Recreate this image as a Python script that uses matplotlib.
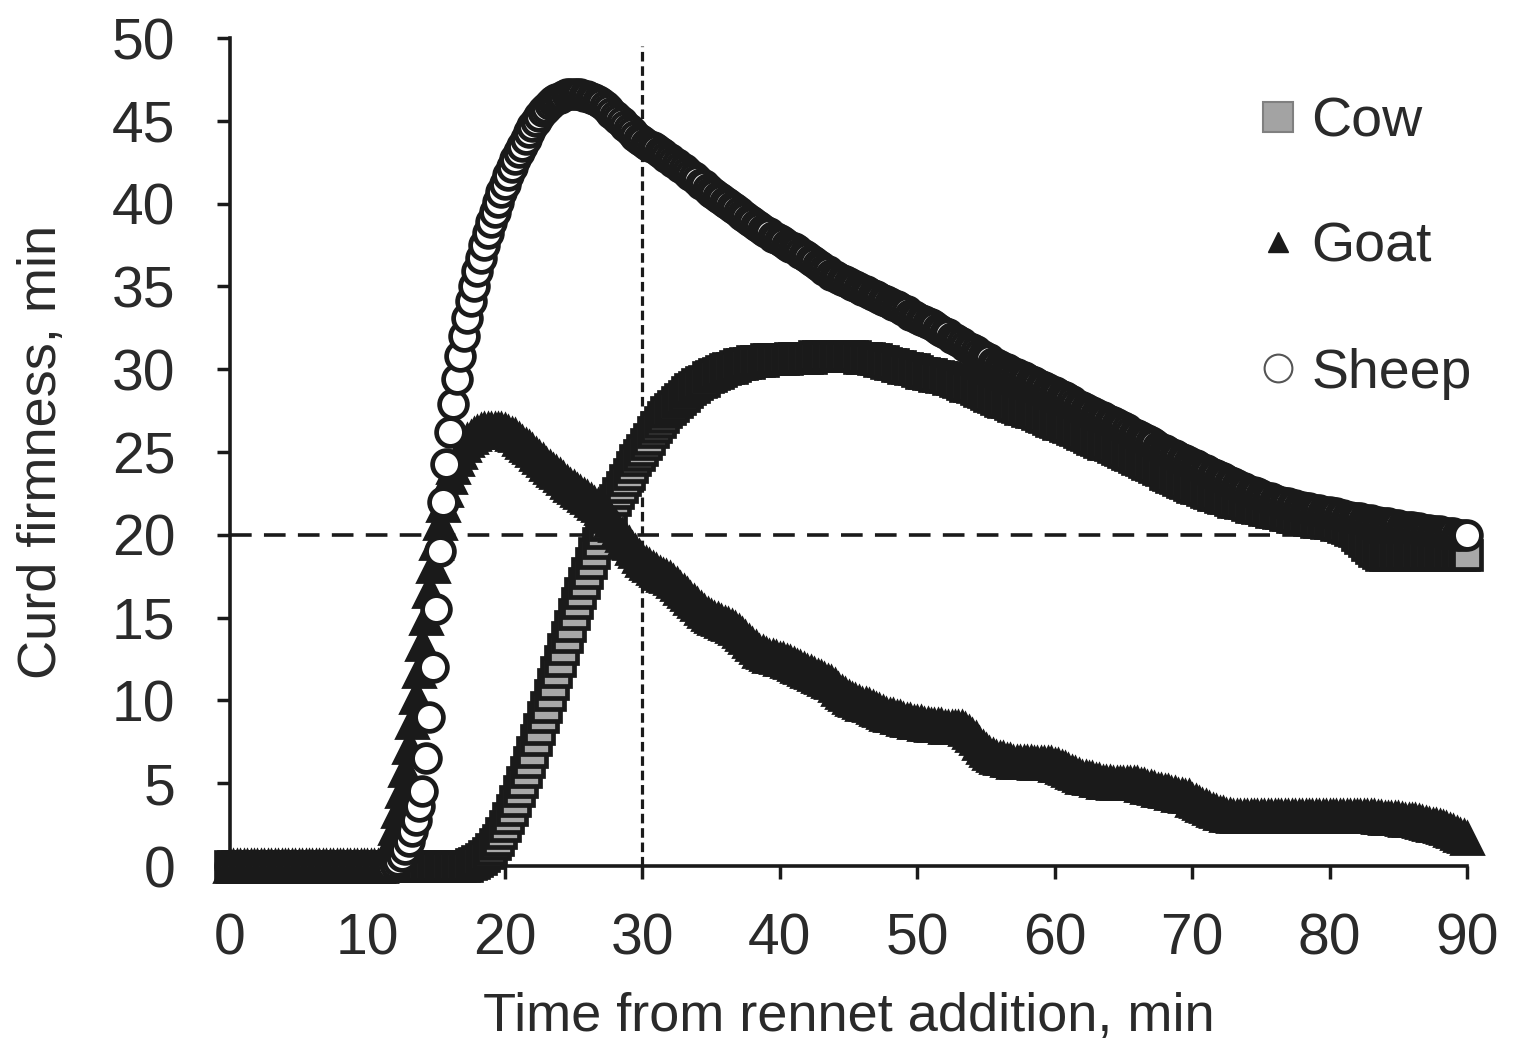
import numpy as np
import matplotlib.pyplot as plt
from matplotlib.lines import Line2D

plt.rcParams['font.family'] = ['Liberation Sans', 'DejaVu Sans']

# curd firmness, one value every 0.25 min (0 .. 90 min)
time_step = 0.25

cow = [
    0, 0, 0, 0, 0, 0, 0, 0,                          # 0
    0, 0, 0, 0, 0, 0, 0, 0,                          # 2
    0, 0, 0, 0, 0, 0, 0, 0,                          # 4
    0, 0, 0, 0, 0, 0, 0, 0,                          # 6
    0, 0, 0, 0, 0, 0, 0, 0,                          # 8
    0, 0, 0, 0, 0, 0, 0, 0,                          # 10
    0, 0, 0, 0, 0, 0, 0, 0,                          # 12
    0, 0, 0, 0, 0, 0, 0, 0,                          # 14
    0, 0, 0, 0, 0, 0, 0.1, 0.2,                      # 16
    0.3, 0.45, 0.6, 0.8, 1.0, 1.3, 1.6, 2.0,         # 18
    2.4, 2.9, 3.4, 3.9, 4.5, 5.1, 5.7, 6.3,          # 20
    6.9, 7.6, 8.3, 9.0, 9.6, 10.3, 11.0, 11.7,       # 22
    12.4, 13.1, 13.8, 14.5, 15.2, 15.9, 16.5, 17.1,  # 24
    17.7, 18.3, 18.9, 19.5, 20.1, 20.6, 21.1, 21.6,  # 26
    22.1, 22.5, 22.9, 23.3, 23.7, 24.1, 24.5, 24.8,  # 28
    25.1, 25.5, 25.8, 26.2, 26.5, 26.8, 27.1, 27.4,  # 30
    27.6, 27.8, 28.0, 28.2, 28.4, 28.6, 28.8, 28.9,  # 32
    29.1, 29.2, 29.3, 29.5, 29.6, 29.7, 29.8, 29.9,  # 34
    30.0, 30.1, 30.1, 30.2, 30.3, 30.3, 30.4, 30.4,  # 36
    30.5, 30.5, 30.5, 30.5, 30.6, 30.6, 30.6, 30.6,  # 38
    30.6, 30.6, 30.6, 30.7, 30.7, 30.7, 30.7, 30.7,  # 40
    30.7, 30.7, 30.8, 30.8, 30.8, 30.8, 30.8, 30.8,  # 42
    30.8, 30.8, 30.8, 30.8, 30.8, 30.8, 30.8, 30.7,  # 44
    30.7, 30.7, 30.7, 30.6, 30.6, 30.5, 30.5, 30.4,  # 46
    30.3, 30.3, 30.2, 30.2, 30.1, 30.1, 30.0, 30.0,  # 48
    29.9, 29.8, 29.8, 29.7, 29.7, 29.6, 29.6, 29.5,  # 50
    29.5, 29.4, 29.4, 29.3, 29.2, 29.1, 29.0, 29.0,  # 52
    28.9, 28.8, 28.7, 28.6, 28.5, 28.4, 28.3, 28.2,  # 54
    28.1, 28.0, 28.0, 27.9, 27.8, 27.7, 27.6, 27.6,  # 56
    27.5, 27.4, 27.4, 27.3, 27.2, 27.1, 27.0, 26.9,  # 58
    26.8, 26.7, 26.7, 26.6, 26.5, 26.4, 26.3, 26.2,  # 60
    26.1, 26.0, 25.9, 25.8, 25.7, 25.6, 25.5, 25.5,  # 62
    25.4, 25.3, 25.2, 25.1, 25.0, 24.9, 24.8, 24.7,  # 64
    24.6, 24.5, 24.4, 24.3, 24.2, 24.1, 24.0, 23.9,  # 66
    23.7, 23.6, 23.5, 23.4, 23.3, 23.2, 23.1, 23.0,  # 68
    22.9, 22.8, 22.8, 22.7, 22.6, 22.5, 22.4, 22.4,  # 70
    22.3, 22.2, 22.2, 22.1, 22.0, 22.0, 21.9, 21.9,  # 72
    21.8, 21.7, 21.7, 21.6, 21.6, 21.5, 21.5, 21.4,  # 74
    21.4, 21.3, 21.3, 21.2, 21.2, 21.1, 21.1, 21.0,  # 76
    21.0, 21.0, 20.9, 20.9, 20.8, 20.8, 20.8, 20.7,  # 78
    20.7, 20.7, 20.6, 20.6, 20.5, 20.4, 20.3, 20.2,  # 80
    20.0, 19.8, 19.6, 19.4, 19.2, 19.0, 18.9, 18.8,  # 82
    18.8, 18.8, 18.8, 18.8, 18.8, 18.8, 18.8, 18.8,  # 84
    18.8, 18.8, 18.8, 18.8, 18.8, 18.8, 18.8, 18.8,  # 86
    18.8, 18.8, 18.8, 18.8, 18.8, 18.8, 18.8, 18.8,  # 88
    18.8,                                            # 90
]

goat = [
    0, 0, 0, 0, 0, 0, 0, 0,                          # 0
    0, 0, 0, 0, 0, 0, 0, 0,                          # 2
    0, 0, 0, 0, 0, 0, 0, 0,                          # 4
    0, 0, 0, 0, 0, 0, 0, 0,                          # 6
    0, 0, 0, 0, 0, 0, 0, 0,                          # 8
    0, 0, 0, 0, 0, 0.2, 0.7, 1.4,                    # 10
    2.3, 3.3, 4.5, 5.8, 7.2, 8.7, 10.2, 11.8,        # 12
    13.4, 15.0, 16.6, 18.1, 19.5, 20.7, 21.8, 22.7,  # 14
    23.5, 24.1, 24.6, 25.0, 25.4, 25.7, 25.9, 26.1,  # 16
    26.2, 26.3, 26.4, 26.4, 26.4, 26.4, 26.4, 26.4,  # 18
    26.3, 26.2, 26.1, 26.0, 25.8, 25.6, 25.4, 25.3,  # 20
    25.1, 24.9, 24.7, 24.5, 24.3, 24.1, 23.9, 23.8,  # 22
    23.6, 23.4, 23.2, 23.0, 22.9, 22.7, 22.6, 22.4,  # 24
    22.3, 22.1, 21.9, 21.8, 21.6, 21.4, 21.2, 20.9,  # 26
    20.6, 20.3, 20.0, 19.8, 19.5, 19.2, 19.0, 18.7,  # 28
    18.5, 18.3, 18.2, 18.0, 17.9, 17.7, 17.6, 17.5,  # 30
    17.4, 17.2, 17.0, 16.8, 16.6, 16.4, 16.2, 16.0,  # 32
    15.8, 15.6, 15.4, 15.2, 15.1, 15.0, 14.9, 14.8,  # 34
    14.7, 14.6, 14.5, 14.4, 14.2, 14.0, 13.8, 13.6,  # 36
    13.4, 13.2, 13.0, 12.9, 12.8, 12.7, 12.7, 12.6,  # 38
    12.5, 12.5, 12.4, 12.3, 12.2, 12.1, 12.0, 11.9,  # 40
    11.8, 11.7, 11.6, 11.5, 11.4, 11.3, 11.2, 11.1,  # 42
    10.9, 10.7, 10.5, 10.4, 10.2, 10.1, 10.0, 9.9,   # 44
    9.8, 9.8, 9.7, 9.6, 9.5, 9.4, 9.3, 9.2,          # 46
    9.1, 9.1, 9.0, 9.0, 8.9, 8.8, 8.8, 8.7,          # 48
    8.7, 8.7, 8.6, 8.6, 8.5, 8.5, 8.5, 8.5,          # 50
    8.4, 8.4, 8.4, 8.4, 8.4, 8.4, 8.3, 8.1,          # 52
    7.9, 7.7, 7.4, 7.2, 7.0, 6.8, 6.7, 6.6,          # 54
    6.5, 6.5, 6.4, 6.4, 6.3, 6.3, 6.3, 6.3,          # 56
    6.3, 6.3, 6.2, 6.2, 6.2, 6.2, 6.2, 6.2,          # 58
    6.1, 6.1, 6.0, 5.9, 5.8, 5.7, 5.6, 5.5,          # 60
    5.4, 5.4, 5.3, 5.3, 5.2, 5.2, 5.1, 5.1,          # 62
    5.1, 5.0, 5.0, 5.0, 5.0, 5.0, 5.0, 5.0,          # 64
    5.0, 4.9, 4.9, 4.8, 4.8, 4.7, 4.6, 4.6,          # 66
    4.5, 4.5, 4.4, 4.4, 4.3, 4.3, 4.2, 4.2,          # 68
    4.0, 3.9, 3.8, 3.7, 3.6, 3.5, 3.4, 3.3,          # 70
    3.2, 3.2, 3.1, 3.1, 3.0, 3.0, 3.0, 3.0,          # 72
    3.0, 3.0, 3.0, 3.0, 3.0, 3.0, 3.0, 3.0,          # 74
    3.0, 3.0, 3.0, 3.0, 3.0, 3.0, 3.0, 3.0,          # 76
    3.0, 3.0, 3.0, 3.0, 3.0, 3.0, 3.0, 3.0,          # 78
    3.0, 3.0, 3.0, 3.0, 3.0, 3.0, 3.0, 3.0,          # 80
    3.0, 3.0, 3.0, 3.0, 3.0, 3.0, 2.95, 2.95,        # 82
    2.9, 2.9, 2.9, 2.9, 2.9, 2.85, 2.8, 2.8,         # 84
    2.8, 2.75, 2.7, 2.65, 2.6, 2.55, 2.5, 2.45,      # 86
    2.4, 2.35, 2.3, 2.2, 2.1, 2.0, 1.9, 1.8,         # 88
    1.7,                                             # 90
]

sheep = [
    0, 0, 0, 0, 0, 0, 0, 0,                          # 0
    0, 0, 0, 0, 0, 0, 0, 0,                          # 2
    0, 0, 0, 0, 0, 0, 0, 0,                          # 4
    0, 0, 0, 0, 0, 0, 0, 0,                          # 6
    0, 0, 0, 0, 0, 0, 0, 0,                          # 8
    0, 0, 0, 0, 0, 0, 0, 0,                          # 10
    0.1, 0.3, 0.6, 1.0, 1.5, 2.1, 2.8, 3.6,          # 12
    4.5, 6.5, 9.0, 12.0, 15.5, 19.0, 22.0, 24.3,     # 14
    26.2, 27.9, 29.4, 30.8, 32.0, 33.1, 34.1, 35.0,  # 16
    35.9, 36.7, 37.5, 38.2, 38.9, 39.5, 40.1, 40.7,  # 18
    41.2, 41.7, 42.2, 42.7, 43.1, 43.5, 43.9, 44.3,  # 20
    44.7, 45.0, 45.3, 45.6, 45.8, 46.0, 46.2, 46.3,  # 22
    46.4, 46.5, 46.6, 46.6, 46.6, 46.6, 46.6, 46.5,  # 24
    46.5, 46.4, 46.3, 46.2, 46.1, 45.9, 45.7, 45.5,  # 26
    45.3, 45.1, 44.9, 44.7, 44.5, 44.3, 44.1, 43.9,  # 28
    43.8, 43.6, 43.5, 43.4, 43.3, 43.1, 43.0, 42.8,  # 30
    42.7, 42.5, 42.4, 42.2, 42.1, 41.9, 41.7, 41.6,  # 32
    41.4, 41.2, 41.1, 40.9, 40.7, 40.6, 40.4, 40.3,  # 34
    40.1, 40.0, 39.8, 39.7, 39.5, 39.3, 39.2, 39.0,  # 36
    38.9, 38.7, 38.6, 38.4, 38.3, 38.2, 38.0, 37.9,  # 38
    37.8, 37.7, 37.5, 37.4, 37.3, 37.2, 37.0, 36.9,  # 40
    36.8, 36.6, 36.5, 36.3, 36.2, 36.0, 35.9, 35.7,  # 42
    35.6, 35.5, 35.4, 35.3, 35.2, 35.1, 35.0, 34.9,  # 44
    34.8, 34.7, 34.6, 34.5, 34.4, 34.3, 34.2, 34.1,  # 46
    34.0, 33.9, 33.8, 33.7, 33.6, 33.5, 33.3, 33.2,  # 48
    33.1, 33.0, 32.9, 32.8, 32.7, 32.6, 32.4, 32.3,  # 50
    32.2, 32.1, 31.9, 31.8, 31.7, 31.6, 31.4, 31.3,  # 52
    31.2, 31.1, 30.9, 30.8, 30.7, 30.6, 30.4, 30.3,  # 54
    30.2, 30.1, 30.0, 29.9, 29.8, 29.7, 29.6, 29.5,  # 56
    29.4, 29.3, 29.2, 29.1, 29.0, 28.9, 28.8, 28.7,  # 58
    28.6, 28.5, 28.4, 28.3, 28.2, 28.1, 27.9, 27.8,  # 60
    27.7, 27.6, 27.5, 27.4, 27.3, 27.2, 27.1, 27.0,  # 62
    26.9, 26.8, 26.7, 26.6, 26.5, 26.4, 26.2, 26.1,  # 64
    26.0, 25.9, 25.8, 25.7, 25.6, 25.5, 25.3, 25.2,  # 66
    25.1, 25.0, 24.9, 24.8, 24.7, 24.6, 24.5, 24.4,  # 68
    24.3, 24.2, 24.1, 24.0, 23.9, 23.8, 23.7, 23.6,  # 70
    23.5, 23.4, 23.3, 23.2, 23.1, 23.0, 22.9, 22.8,  # 72
    22.7, 22.6, 22.6, 22.5, 22.4, 22.3, 22.2, 22.2,  # 74
    22.1, 22.0, 22.0, 21.9, 21.9, 21.8, 21.8, 21.7,  # 76
    21.7, 21.6, 21.6, 21.5, 21.5, 21.5, 21.4, 21.4,  # 78
    21.4, 21.3, 21.3, 21.2, 21.2, 21.1, 21.1, 21.0,  # 80
    21.0, 21.0, 20.9, 20.9, 20.9, 20.8, 20.8, 20.7,  # 82
    20.7, 20.7, 20.6, 20.6, 20.6, 20.5, 20.5, 20.5,  # 84
    20.5, 20.4, 20.4, 20.3, 20.3, 20.3, 20.2, 20.2,  # 86
    20.2, 20.1, 20.1, 20.1, 20.1, 20.0, 20.0, 20.0,  # 88
    20.0,                                            # 90
]

time_min = np.arange(len(cow)) * time_step

x_ticks = [0, 10, 20, 30, 40, 50, 60, 70, 80, 90]
y_ticks = [0, 5, 10, 15, 20, 25, 30, 35, 40, 45, 50]
ref_firmness = 20   # horizontal dashed line
ref_time = 30       # vertical dashed line

text_col = '#2a2a2a'
ink = '#1a1a1a'

fig = plt.figure(figsize=(15.14, 10.44), dpi=100)
ax = fig.add_axes([230/1514, 178/1044, 1237/1514, 828/1044])

# reference lines
ax.plot([0, 90], [ref_firmness, ref_firmness], color=ink, lw=2.6,
        ls=(0, (6.0, 3.4)), zorder=1)
ax.plot([ref_time, ref_time], [0, 49.5], color=ink, lw=2.3,
        ls=(0, (3.0, 1.5)), zorder=1)

# series (dense markers; the thick edges merge into a solid band)
ax.plot(time_min, cow, ls='none', marker='s', ms=20, mfc='#a8a8a8',
        mec=ink, mew=3.4, clip_on=False, zorder=3)
ax.plot(time_min, goat, ls='none', marker='^', ms=23, mfc=ink,
        mec=ink, mew=2.0, clip_on=False, zorder=3)
ax.plot(time_min, sheep, ls='none', marker='o', ms=20, mfc='white',
        mec=ink, mew=3.4, clip_on=False, zorder=3)

ax.set_xlim(0, 90)
ax.set_ylim(0, 50)
ax.set_xticks(x_ticks)
ax.set_yticks(y_ticks)

for s in ['top', 'right']:
    ax.spines[s].set_visible(False)
for s in ['left', 'bottom']:
    ax.spines[s].set_linewidth(2.6)
    ax.spines[s].set_color(ink)

ax.tick_params(direction='out', length=9.5, width=2.5, color=ink,
               labelsize=41, labelcolor=text_col)
ax.tick_params(axis='y', pad=30)
ax.tick_params(axis='x', pad=24)

ax.set_xlabel('Time from rennet addition, min', fontsize=39, color=text_col)
ax.set_ylabel('Curd firmness, min', fontsize=39, color=text_col)
ax.xaxis.set_label_coords(0.5, -0.1525)
ax.yaxis.set_label_coords(-0.1314, 0.5)

handles = [
    Line2D([], [], ls='none', marker='s', ms=22, mfc='#a3a3a3', mec='#808080',
           mew=1.5, label='Cow'),
    Line2D([], [], ls='none', marker='^', ms=15, mfc=ink, mec=ink,
           label='Goat'),
    Line2D([], [], ls='none', marker='o', ms=20, mfc='white', mec='#555555',
           mew=1.5, label='Sheep'),
]
ax.legend(handles=handles, loc='upper left', bbox_to_anchor=(0.833, 0.908),
          bbox_transform=fig.transFigure, frameon=False, fontsize=40,
          labelcolor=text_col, borderpad=0, borderaxespad=0,
          handlelength=0.6, handletextpad=0.3, labelspacing=1.33)

plt.savefig('out.png', dpi=100)
